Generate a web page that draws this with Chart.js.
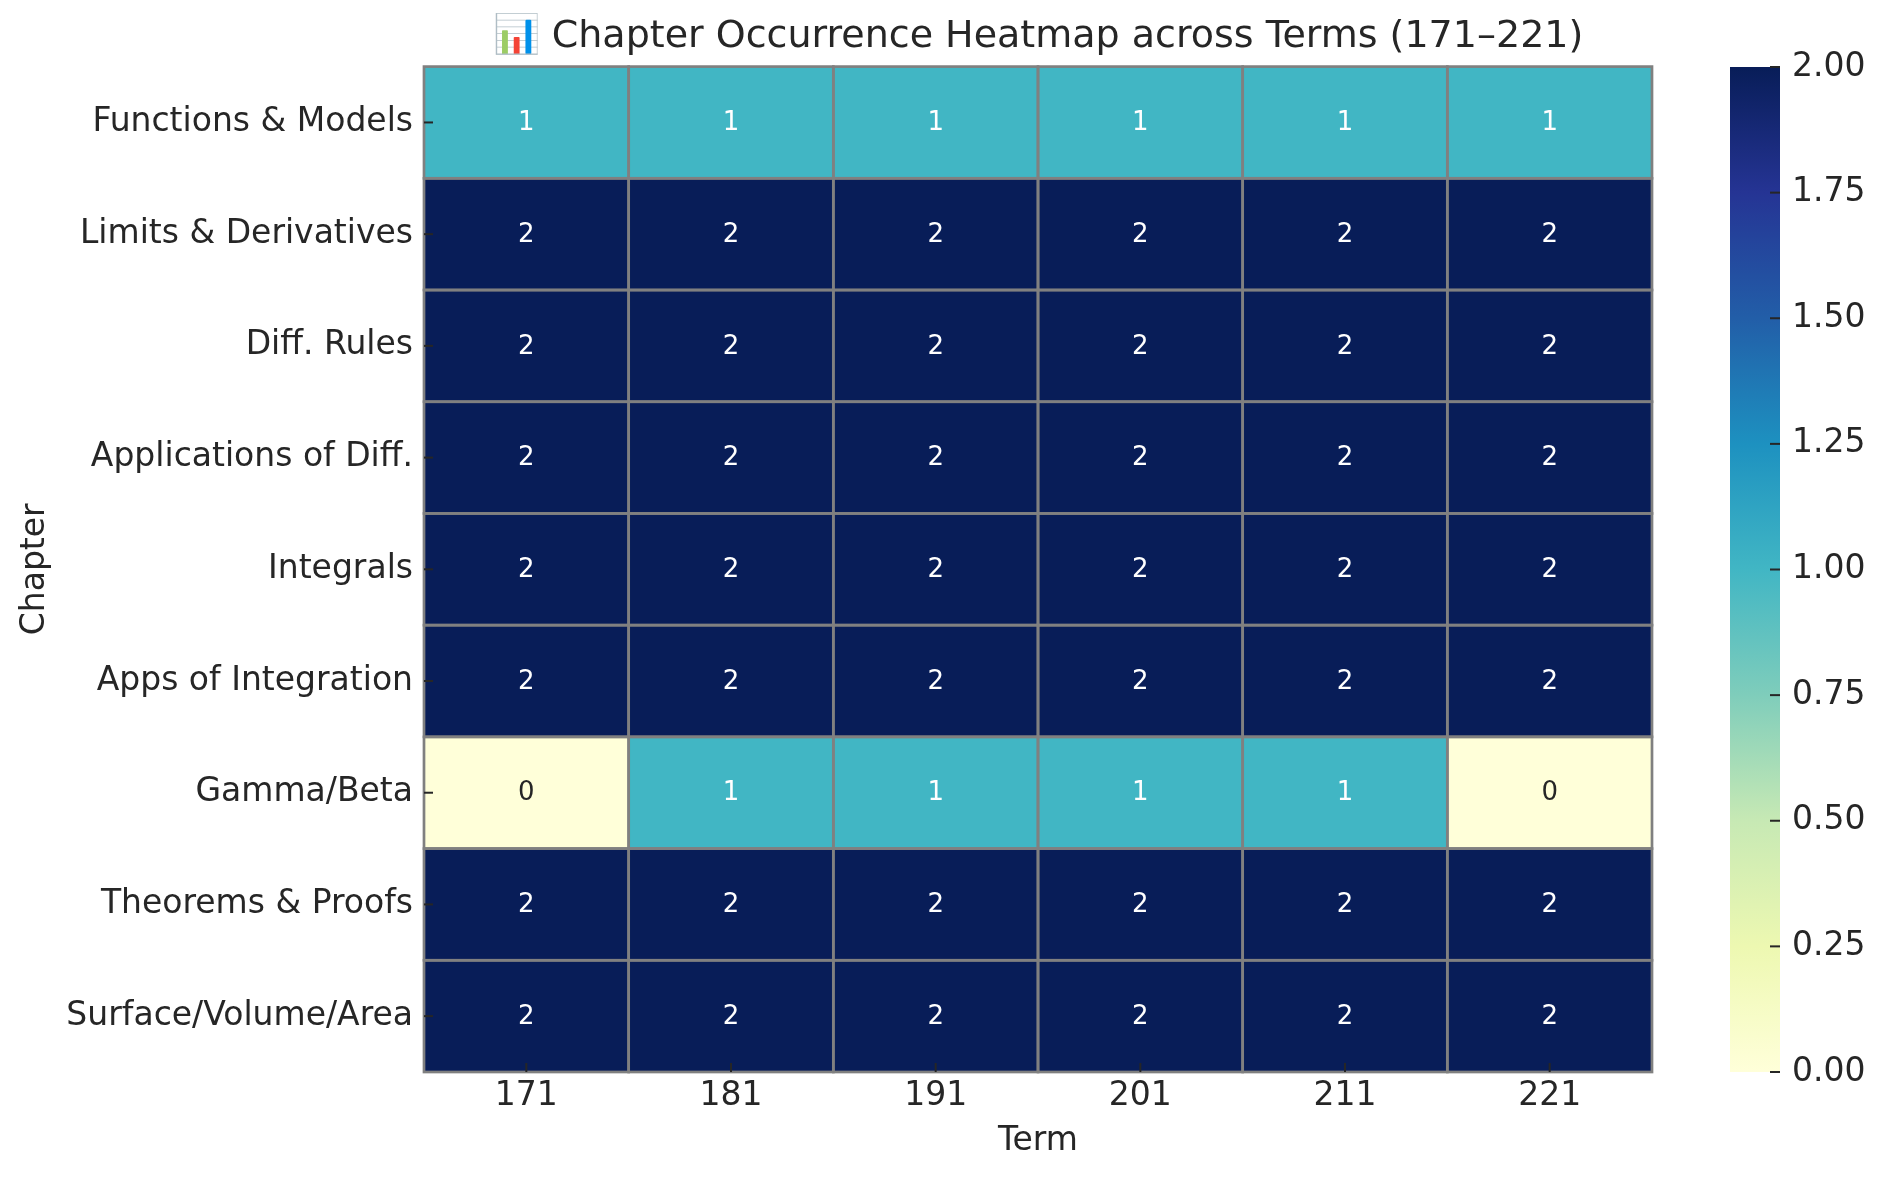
<!DOCTYPE html>
<html><head><meta charset="utf-8">
<script src="https://cdn.jsdelivr.net/npm/chart.js@4"></script>
<style>
body{margin:0;background:#fff;}
#wrap{position:relative;width:1884px;height:1180px;}
canvas{position:absolute;top:0;}
</style>
</head><body>
<div id="wrap">
<canvas id="main" width="1884" height="1180" style="left:0"></canvas>
<canvas id="cbar" width="232" height="1180" style="left:1652px"></canvas>
</div>
<script>
// ---- data ----
const terms = ['171', '181', '191', '201', '211', '221'];
const chapters = ['Functions & Models', 'Limits & Derivatives', 'Diff. Rules', 'Applications of Diff.', 'Integrals', 'Apps of Integration', 'Gamma/Beta', 'Theorems & Proofs', 'Surface/Volume/Area'];
const functionsModels     = [1, 1, 1, 1, 1, 1];
const limitsDerivatives   = [2, 2, 2, 2, 2, 2];
const diffRules           = [2, 2, 2, 2, 2, 2];
const applicationsOfDiff  = [2, 2, 2, 2, 2, 2];
const integrals           = [2, 2, 2, 2, 2, 2];
const appsOfIntegration   = [2, 2, 2, 2, 2, 2];
const gammaBeta           = [0, 1, 1, 1, 1, 0];
const theoremsProofs      = [2, 2, 2, 2, 2, 2];
const surfaceVolumeArea   = [2, 2, 2, 2, 2, 2];
const colorbarTicks = [0, 0.25, 0.5, 0.75, 1, 1.25, 1.5, 1.75, 2];
const vmin = 0, vmax = 2;
const titleText = '\u{1F4CA} Chapter Occurrence Heatmap across Terms (171\u2013221)';

const counts = [functionsModels, limitsDerivatives, diffRules, applicationsOfDiff, integrals, appsOfIntegration, gammaBeta, theoremsProofs, surfaceVolumeArea];

// ---- YlGnBu colormap ----
const ylgnbuStops = ['#ffffd9','#edf8b1','#c7e9b4','#7fcdbb','#41b6c4','#1d91c0','#225ea8','#253494','#081d58'];
function hex2rgb(h){return [1,3,5].map(i=>parseInt(h.substr(i,2),16));}
function ylgnbu(t){
  t = Math.max(0, Math.min(1, t));
  const n = ylgnbuStops.length - 1;
  const p = t * n, i = Math.min(Math.floor(p), n - 1), f = p - i;
  const a = hex2rgb(ylgnbuStops[i]), b = hex2rgb(ylgnbuStops[i+1]);
  const c = a.map((v,k)=>Math.round(v + (b[k]-v)*f));
  return 'rgb(' + c.join(',') + ')';
}
function lum(t){
  const m = ylgnbu(t).match(/\d+/g).map(Number).map(v=>{v/=255;return v<=0.03928?v/12.92:Math.pow((v+0.055)/1.055,2.4);});
  return 0.2126*m[0]+0.7152*m[1]+0.0722*m[2];
}
const norm = v => (v - vmin) / (vmax - vmin);
const TXT = '#262626';
Chart.defaults.font.family = "'DejaVu Sans', sans-serif";
Chart.defaults.color = TXT;

const datasets = terms.map((t, j) => ({
  label: t,
  data: chapters.map(() => [j, j + 1]),
  backgroundColor: chapters.map((c, i) => ylgnbu(norm(counts[i][j]))),
  borderWidth: 0,
  barPercentage: 1,
  categoryPercentage: 1,
  grouped: false,
  inflateAmount: 0.5
}));

const heatPlugin = {
  id: 'heat',
  afterDatasetsDraw(chart) {
    const ctx = chart.ctx, area = chart.chartArea;
    ctx.save();
    // cell edges
    ctx.strokeStyle = '#808080';
    ctx.lineWidth = 2.7;
    chart.data.datasets.forEach((ds, j) => {
      chart.getDatasetMeta(j).data.forEach((el) => {
        const p = el.getProps(['x', 'y', 'base', 'height'], true);
        const l = Math.min(p.x, p.base), w = Math.abs(p.x - p.base);
        ctx.strokeRect(l, p.y - p.height / 2, w, p.height);
      });
    });
    // annotations
    ctx.font = "26px 'DejaVu Sans'";
    ctx.textAlign = 'center';
    ctx.textBaseline = 'middle';
    chart.data.datasets.forEach((ds, j) => {
      chart.getDatasetMeta(j).data.forEach((el, i) => {
        const p = el.getProps(['x', 'y', 'base'], true);
        const v = counts[i][j];
        ctx.fillStyle = lum(norm(v)) < 0.408 ? '#ffffff' : TXT;
        ctx.fillText(String(v), (p.x + p.base) / 2, p.y + 1);
      });
    });
    // inward tick marks
    ctx.strokeStyle = TXT;
    ctx.lineWidth = 2;
    const ys = chart.scales.y, xs = chart.scales.x;
    ys.ticks.forEach((t, i) => {
      const py = ys.getPixelForTick(i);
      ctx.beginPath(); ctx.moveTo(area.left, py); ctx.lineTo(area.left + 9, py); ctx.stroke();
    });
    xs.ticks.forEach((t, i) => {
      const px = xs.getPixelForTick(i);
      ctx.beginPath(); ctx.moveTo(px, area.bottom); ctx.lineTo(px, area.bottom - 9); ctx.stroke();
    });
    ctx.restore();
  }
};

new Chart(document.getElementById('main'), {
  type: 'bar',
  data: { labels: chapters, datasets },
  options: {
    indexAxis: 'y',
    responsive: false,
    animation: false,
    layout: { padding: { left: 0, right: 232, top: 0, bottom: 0 } },
    plugins: {
      legend: { display: false },
      tooltip: { enabled: false },
      title: { display: true, text: titleText, fullSize: false, color: TXT,
               font: { size: 38, weight: 'normal' }, padding: { top: 14, bottom: 7 } }
    },
    scales: {
      x: {
        type: 'linear', min: 0, max: terms.length, position: 'bottom',
        afterBuildTicks: s => { s.ticks = terms.map((t, j) => ({ value: j + 0.5 })); },
        afterFit: s => { s.height = 108; },
        ticks: { callback: (v, idx) => terms[idx], font: { size: 33 }, color: TXT, padding: 5, maxRotation: 0, autoSkip: false },
        grid: { display: false, drawTicks: false },
        border: { display: false },
        title: { display: true, text: 'Term', color: TXT, font: { size: 33 }, padding: { top: 0, bottom: 19 } }
      },
      y: {
        type: 'category',
        afterFit: s => { s.width = 424; },
        ticks: { font: { size: 33 }, color: TXT, padding: 11, autoSkip: false },
        grid: { display: false, drawTicks: false, offset: false },
        border: { display: false },
        title: { display: true, text: 'Chapter', color: TXT, font: { size: 33 }, padding: { top: 16, bottom: 0 } }
      }
    }
  },
  plugins: [heatPlugin]
});

// ---- colorbar ----
const cbTickPlugin = {
  id: 'cbticks',
  afterDatasetsDraw(chart) {
    const ctx = chart.ctx, area = chart.chartArea, ys = chart.scales.y;
    ctx.save();
    ctx.strokeStyle = TXT; ctx.lineWidth = 2;
    ys.ticks.forEach((t, i) => {
      const py = ys.getPixelForTick(i);
      ctx.beginPath(); ctx.moveTo(area.right, py); ctx.lineTo(area.right - 10, py); ctx.stroke();
    });
    ctx.restore();
  }
};
new Chart(document.getElementById('cbar'), {
  type: 'bar',
  data: { labels: ['cb'], datasets: [{
    data: [[vmin, vmax]],
    borderWidth: 0, barPercentage: 1, categoryPercentage: 1,
    backgroundColor: (c) => {
      const ch = c.chart, ys = ch.scales.y;
      if (!ch.chartArea || !ys) return ylgnbuStops[4];
      const y0 = ys.getPixelForValue(vmin), y1 = ys.getPixelForValue(vmax);
      if (!isFinite(y0) || !isFinite(y1) || y0 === y1) return ylgnbuStops[4];
      const g = ch.ctx.createLinearGradient(0, y0, 0, y1);
      ylgnbuStops.forEach((s, k) => g.addColorStop(k / (ylgnbuStops.length - 1), s));
      return g;
    }
  }] },
  options: {
    responsive: false, animation: false,
    layout: { padding: { left: 78, top: 67, bottom: 108, right: 0 } },
    plugins: { legend: { display: false }, tooltip: { enabled: false } },
    scales: {
      x: { display: false },
      y: {
        position: 'right', min: vmin, max: vmax,
        afterBuildTicks: s => { s.ticks = colorbarTicks.map(v => ({ value: v })); },
        afterFit: s => { s.width = 232 - 78 - 50; },
        ticks: { callback: v => v.toFixed(2), font: { size: 33 }, color: TXT, padding: 12 },
        grid: { display: false, drawTicks: false },
        border: { display: false }
      }
    }
  },
  plugins: [cbTickPlugin]
});
</script>
</body></html>
